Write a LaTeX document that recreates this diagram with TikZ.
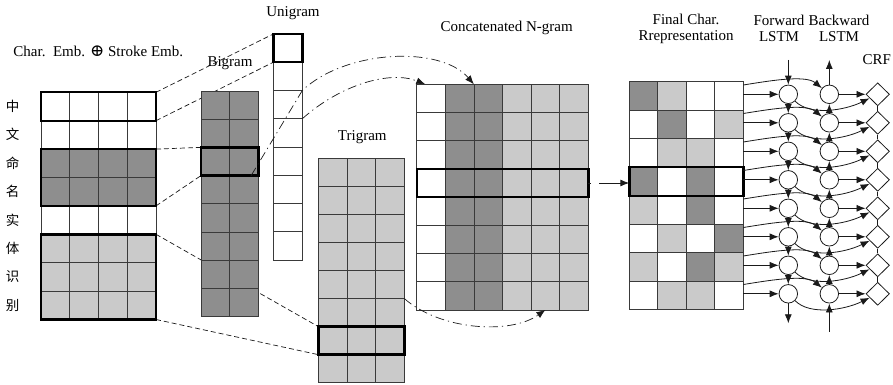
\documentclass[tikz,border=0pt]{standalone}
\usepackage{fontspec}
\setmainfont{Liberation Serif}
\newfontfamily\cjkfont{Noto Sans CJK SC}
\newfontfamily\symbfont{DejaVu Serif}
\usetikzlibrary{arrows.meta,shapes.geometric,calc,backgrounds}
\definecolor{dk}{HTML}{8E8E8E}
\definecolor{lt}{HTML}{CACACA}
\definecolor{cl}{HTML}{3A3A3A}
\definecolor{ln}{HTML}{1A1A1A}
\begin{document}
\begin{tikzpicture}[x=1pt,y=-1pt,
  cell/.style={draw=cl, line width=0.8pt, anchor=north west, inner sep=0pt, outer sep=0pt},
  thickbox/.style={draw=black, line width=2.4pt},
  proj/.style={draw=ln, line width=0.7pt, dash pattern=on 5pt off 3pt},
  dashdot/.style={draw=ln, line width=0.7pt, dash pattern=on 9pt off 4pt on 1.2pt off 4pt},
  tip/.style={-{Latex[length=9pt,width=7pt]}},
  arr/.style={draw=ln, line width=0.8pt, tip},
  lbl/.style={inner sep=0pt, font=\fontsize{15}{16}\selectfont},
  cjk/.style={inner sep=0pt, font=\cjkfont\fontsize{13.5}{14}\selectfont},
  lstm/.style={circle, draw=ln, line width=0.8pt, minimum size=18.5pt, inner sep=0pt, fill=white},
  crf/.style={diamond, draw=ln, line width=0.8pt, minimum width=23.5pt, minimum height=23pt, inner sep=0pt, fill=white}
]
\useasboundingbox (0,0) rectangle (893,385);

% ---------- left matrix ----------
\foreach \r/\col in {1/white,2/white,3/dk,4/dk,5/white,6/lt,7/lt,8/lt}{
  \foreach \c in {1,...,4}{
    \node[cell, minimum width=28.75pt, minimum height=28.4pt, fill=\col] (L-\r-\c) at ({41+(\c-1)*28.75},{92.3+(\r-1)*28.4}) {};
  }
}
\draw[thickbox] (L-1-1.north west) rectangle (L-1-4.south east);
\draw[thickbox] (L-3-1.north west) rectangle (L-4-4.south east);
\draw[thickbox] (L-6-1.north west) rectangle (L-8-4.south east);

\foreach \k/\t in {1/中,2/文,3/命,4/名,5/实,6/体,7/识,8/别}{
  \node[cjk] (ch\k) at ({12.5},{106.3+(\k-1)*28.45}) {\t};
}

% ---------- bigram ----------
\foreach \r in {1,...,8}{
  \foreach \c in {1,2}{
    \node[cell, minimum width=28.65pt, minimum height=28.2pt, fill=dk] (B-\r-\c) at ({201+(\c-1)*28.65},{91+(\r-1)*28.2}) {};
  }
}
\draw[thickbox] (B-3-1.north west) rectangle (B-3-2.south east);

% ---------- unigram ----------
\foreach \r in {1,...,8}{
  \node[cell, minimum width=29pt, minimum height=28.25pt, fill=white] (U-\r-1) at (273.3,{34+(\r-1)*28.25}) {};
}
\draw[thickbox] (U-1-1.north west) rectangle (U-1-1.south east);

% ---------- trigram ----------
\foreach \r in {1,...,8}{
  \foreach \c in {1,2,3}{
    \node[cell, minimum width=28.67pt, minimum height=28.05pt, fill=lt] (T-\r-\c) at ({318.3+(\c-1)*28.67},{158.3+(\r-1)*28.05}) {};
  }
}
\draw[thickbox] (T-7-1.north west) rectangle (T-7-3.south east);

% ---------- concatenated ----------
\foreach \r in {1,...,8}{
  \foreach \c/\col in {1/white,2/dk,3/dk,4/lt,5/lt,6/lt}{
    \node[cell, minimum width=28.6pt, minimum height=28.2pt, fill=\col] (C-\r-\c) at ({416.7+(\c-1)*28.6},{84.3+(\r-1)*28.2}) {};
  }
}
\draw[thickbox] (C-4-1.north west) rectangle (C-4-6.south east);

% ---------- final representation ----------
\foreach \r/\pat in {1/{dk,lt,white,white},2/{white,dk,white,lt},3/{white,lt,lt,white},4/{dk,white,dk,white},5/{lt,white,dk,white},6/{white,lt,white,dk},7/{lt,white,dk,lt},8/{white,lt,lt,white}}{
  \foreach \col [count=\c] in \pat {
    \node[cell, minimum width=28.5pt, minimum height=28.5pt, fill=\col] (F-\r-\c) at ({629.3+(\c-1)*28.5},{81.7+(\r-1)*28.5}) {};
  }
}
\draw[thickbox] (F-4-1.north west) rectangle (F-4-4.south east);

% ---------- projection lines (behind) ----------
\begin{scope}[on background layer]
  \draw[proj] (L-1-4.north east) -- (U-1-1.north west);
  \draw[proj] (L-1-4.south east) -- (U-1-1.south west);
  \draw[proj] (L-3-4.north east) -- (B-3-1.north west);
  \draw[proj] (L-4-4.south east) -- (B-3-1.south west);
  \draw[proj] (L-6-4.north east) -- (T-7-1.north west);
  \draw[proj] (L-8-4.south east) -- (T-7-1.south west);
\end{scope}

% ---------- dash-dot arcs ----------
\coordinate (aStart) at ($(B-3-2.south)!0.5!(B-3-2.south east)$);
\coordinate (aTipB) at (C-1-2.north east);
\coordinate (aTipU) at ($(C-1-1.north west)!0.3!(C-1-1.north east)$);
\draw[dashdot, tip] (aStart) -- (U-3-1.north east) .. controls (345,50) and (440,45) .. (aTipB);
\draw[dashdot, tip] (U-3-1.south east) .. controls (340,85) and (390,70) .. (aTipU);
\draw[dashdot, tip] (T-5-3.south east) .. controls (440,330) and (510,335) .. (C-8-5.south);

% concat -> final
\draw[draw=ln, line width=0.9pt, dash pattern=on 3pt off 8pt on 40pt, tip] (C-4-6.east) -- (F-4-1.west |- C-4-6.east);

% ---------- LSTM / CRF ----------
\foreach \k in {1,...,8}{
  \pgfmathsetmacro\yy{94.3+(\k-1)*28.5}
  \node[lstm] (f\k) at (788.3,\yy) {};
  \node[lstm] (b\k) at (829.3,\yy) {};
  \node[crf] (d\k) at (877.7,\yy) {};
}
\coordinate (ftop) at (788.3,60);
\coordinate (fbot) at (788.3,323.3);
\coordinate (btop) at (829.3,60);
\coordinate (bbot) at (829.3,331.7);

\draw[arr] (ftop) -- (f1);
\draw[arr] (f8) -- (fbot);
\draw[arr] (b1) -- (btop);
\draw[arr] (bbot) -- (b8);
\foreach \k [evaluate=\k as \n using int(\k+1)] in {1,...,7}{
  \draw[arr] (f\k) -- (f\n);
  \draw[arr] (b\n) -- (b\k);
  \draw[draw=ln, line width=0.8pt] (d\k) -- (d\n);
}

\foreach \k in {1,...,8}{
  \coordinate (s\k) at (F-\k-4.east |- f\k);
  \draw[arr] (s\k) -- (f\k);
  \draw[arr] ($(s\k)+(0,-9.3)$) .. controls ($(s\k)+(21.7,-12.7)$) and ($(b\k)+(-24.3,-20)$) .. (b\k);
  \draw[arr] (f\k) .. controls ($(f\k)+(21.7,22)$) and ($(d\k)+(-32.7,16)$) .. (d\k);
  \draw[arr] (b\k) -- (d\k);
}

% ---------- labels ----------
\node[lbl] (tChar) at (98.3,51.7) {Char.\ \ Emb. {\symbfont\fontsize{17}{17}\selectfont ⊕} Stroke Emb.};
\node[lbl] (tUni) at (293,13) {Unigram};
\node[lbl] (tBi) at (230,63) {Bigram};
\node[lbl] (tTri) at (362.3,136.7) {Trigram};
\node[lbl] (tCat) at (506.7,28.3) {Concatenated N-gram};
\node[lbl, align=center] (tFin) at (686,28.7) {Final Char.\\Rrepresentation};
\node[lbl, align=center] (tFw) at (779,28.7) {Forward\\LSTM};
\node[lbl, align=center] (tBw) at (839,28.7) {Backward\\LSTM};
\node[lbl] (tCrf) at (876.7,59.3) {CRF};
\end{tikzpicture}
\end{document}
